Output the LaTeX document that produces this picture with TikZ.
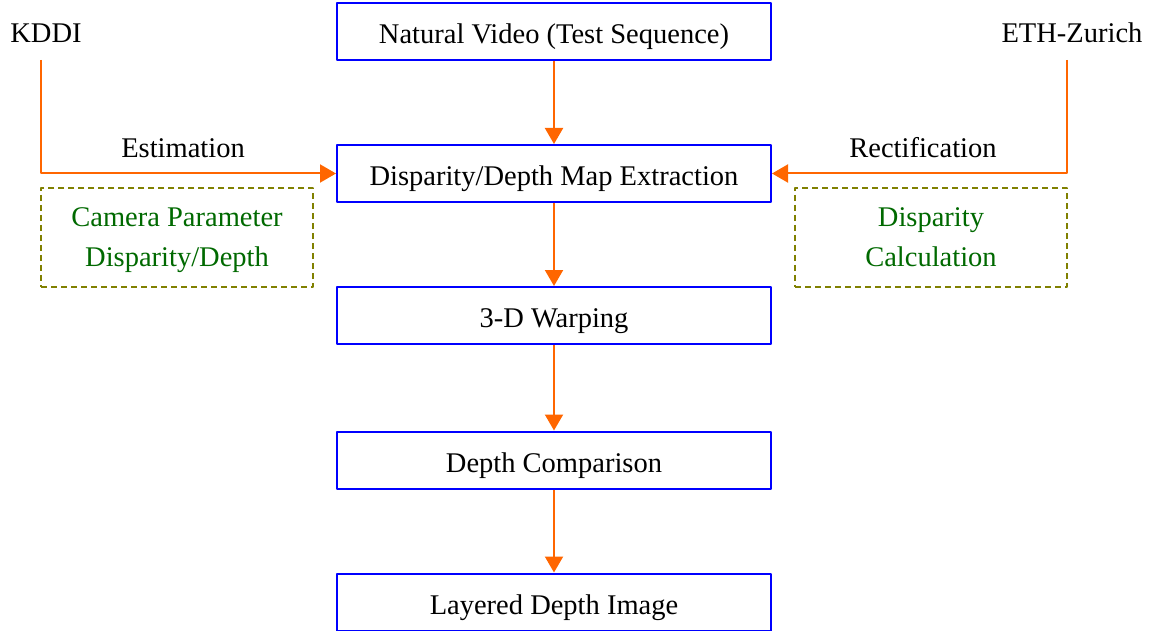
\documentclass[tikz,border=0pt]{standalone}
\usepackage{fontspec}
\setmainfont{Liberation Serif}
\usetikzlibrary{arrows.meta}
\definecolor{flowor}{RGB}{255,102,0}
\definecolor{boxblue}{RGB}{0,0,255}
\definecolor{notegreen}{RGB}{0,105,0}
\definecolor{noteolive}{RGB}{128,128,0}
\begin{document}
\begin{tikzpicture}[x=1pt,y=-1pt,line join=round,
	font=\fontsize{28.5}{40}\selectfont,
	stage/.style={draw=boxblue,line width=2pt,minimum width=434pt,minimum height=57pt,inner sep=0pt,text height=24pt,text depth=0pt},
	note/.style={draw=noteolive,line width=1.6pt,dash pattern=on 6pt off 4pt,text=notegreen,align=center,minimum width=272pt,minimum height=99pt,inner sep=0pt,text depth=0pt},
	flow/.style={draw=flowor,line width=2pt,-{Triangle[length=16pt,width=18pt]}}]
	\useasboundingbox (0,0) rectangle (1159,631);
	% Hauptkette
	\node[stage] (nv) at (554,32) {Natural Video (Test Sequence)};
	\node[stage] (dme) at (554,173.5) {Disparity/Depth Map Extraction};
	\node[stage] (wrp) at (554,315.5) {3-D Warping};
	\node[stage] (cmp) at (554,460) {Depth Comparison};
	\node[stage] (ldi) at (554,602) {Layered Depth Image};
	% Quellen
	\node (kddi) at (46,33) {KDDI};
	\node (eth) at (1072,33) {ETH-Zurich};
	\coordinate (kd) at (41,60);
	\coordinate (ez) at (1067,60);
	\node (est) at (183,148) {Estimation};
	\node (rect) at (923,148) {Rectification};
	\node[note] (cam) at (177,237.5) {Camera Parameter\\Disparity/Depth};
	\node[note] (dcal) at (931,237.5) {Disparity\\Calculation};
	% Pfeile
	\draw[flow] (nv) -- (dme);
	\draw[flow] (dme) -- (wrp);
	\draw[flow] (wrp) -- (cmp);
	\draw[flow] (cmp) -- (ldi);
	\draw[flow] (kd) |- (dme.west);
	\draw[flow] (ez) |- (dme.east);
\end{tikzpicture}
\end{document}
